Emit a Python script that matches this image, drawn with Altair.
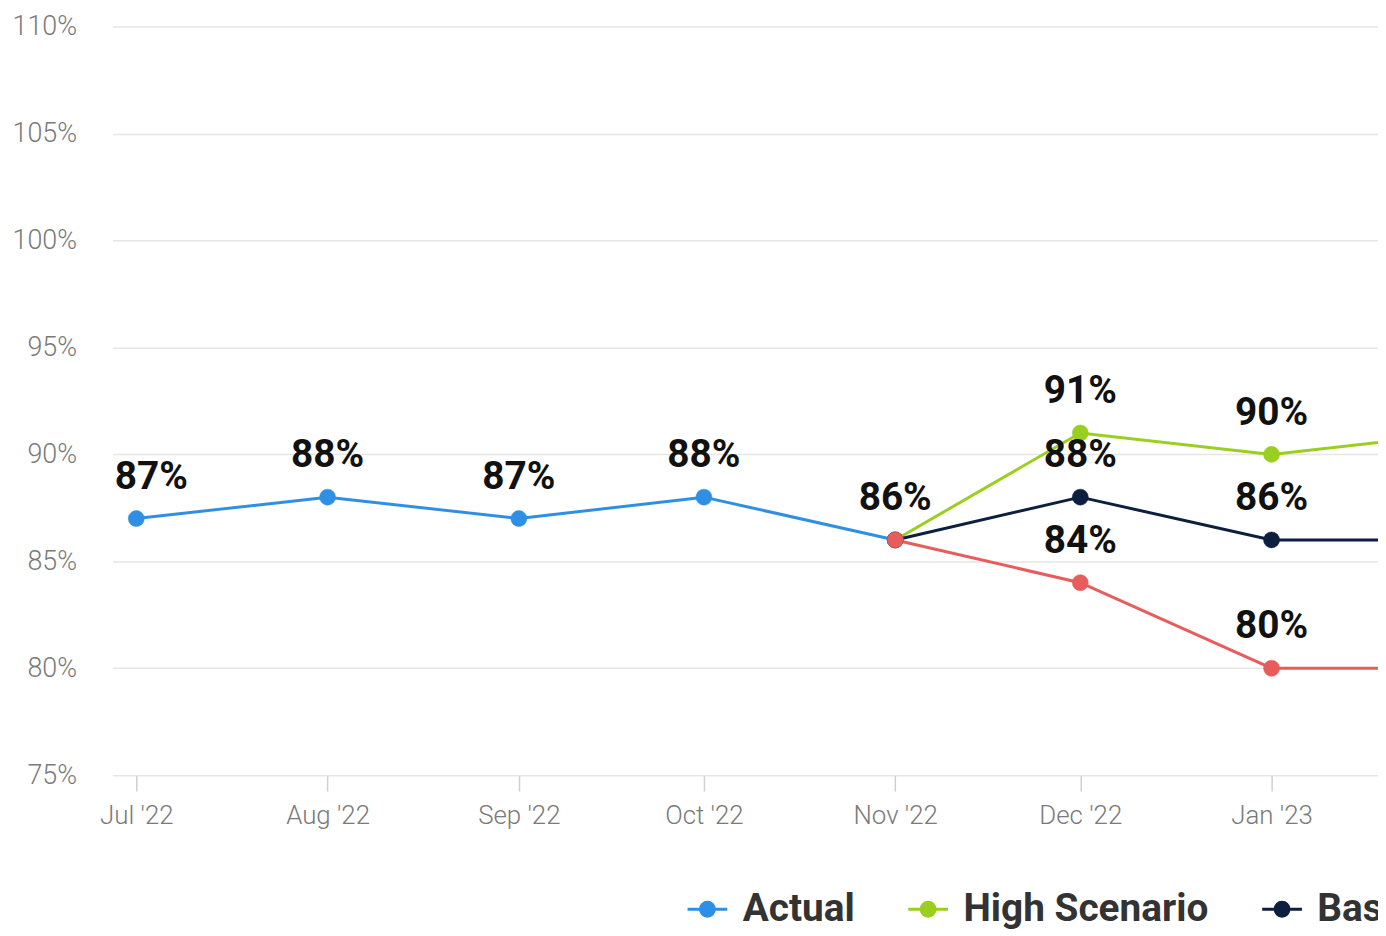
import altair as alt
import pandas as pd

# ---- data ----
series_names = ["Actual", "High Scenario", "Base Scenario", "Low Scenario"]
series_colors = ["#2f8fe5", "#9bcf1f", "#0c1f3f", "#e85c5c"]

actual_months = ["2022-07-01", "2022-08-01", "2022-09-01", "2022-10-01", "2022-11-01"]
actual_values = [87, 88, 87, 88, 86]

scenario_months = ["2022-11-01", "2022-12-01", "2023-01-01", "2023-02-01"]
high_values = [86, 91, 90, 91]
base_values = [86, 88, 86, 86]
low_values = [86, 84, 80, 80]

labelled_scenario_months = ["2022-12-01", "2023-01-01"]

rows = []
for i, (m, v) in enumerate(zip(actual_months, actual_values)):
    rows.append({"month": m + "T00:00:00", "value": v, "series": "Actual",
                 "lab": i > 0, "first": i == 0})
for name, vals in [("High Scenario", high_values), ("Base Scenario", base_values),
                   ("Low Scenario", low_values)]:
    for m, v in zip(scenario_months, vals):
        rows.append({"month": m + "T00:00:00", "value": v, "series": name,
                     "lab": m in labelled_scenario_months, "first": False})
df = pd.DataFrame(rows)
df["order"] = range(len(df))
df["label"] = df["value"].astype(str) + "%"

x_scale = alt.Scale(domain=[alt.DateTime(year=2022, month=6, date=27, hours=3),
                            alt.DateTime(year=2023, month=1, date=18, hours=6)])
y_scale = alt.Scale(domain=[75, 110], nice=False, zero=False)

x_enc = alt.X("month:T", scale=x_scale,
              axis=alt.Axis(title=None, format="%b '%y", tickCount={"interval": "month", "step": 1},
                            grid=False, domain=False, ticks=True, tickSize=16, tickColor="#d0d0d0",
                            tickWidth=1.5, labelPadding=12, labelFontSize=26, labelFont="Roboto",
                            labelFontWeight=300, labelColor="#7a7a7a", labelFlush=False))
y_enc = alt.Y("value:Q", scale=y_scale,
              axis=alt.Axis(title=None, values=[75, 80, 85, 90, 95, 100, 105, 110],
                            labelExpr="datum.value + '%'", grid=True, gridColor="#e6e6e6",
                            gridWidth=1.5, domain=False, ticks=False, labelPadding=36,
                            labelFontSize=27, labelFont="Roboto", labelFontWeight=300,
                            labelColor="#7a7a7a"))

col_scale = alt.Scale(domain=series_names, range=series_colors)

legend = alt.Legend(
    title=None, orient="none", direction="horizontal", columns=4,
    legendX=577, legendY=866, padding=0,
    symbolType="M-1,0L1,0M-0.35,0A0.35,0.35,0,1,0,0.35,0A0.35,0.35,0,1,0,-0.35,0Z",
    symbolSize=1600, symbolStrokeWidth=3, symbolOpacity=1,
    labelFont="Roboto", labelFontSize=39, labelFontWeight="bold", labelColor="#333333",
    labelOffset=14, columnPadding=47, labelLimit=600,
)

base = alt.Chart(df)

lines = base.mark_line(strokeWidth=3, clip=True).encode(
    x=x_enc, y=y_enc,
    stroke=alt.Stroke("series:N", scale=col_scale, legend=legend),
    order=alt.Order("order:Q"),
)

points = base.mark_point(filled=True, size=260, opacity=1, strokeWidth=0.5, clip=True).encode(
    x=x_enc, y=y_enc,
    fill=alt.Fill("series:N", scale=col_scale, legend=legend),
    stroke=alt.Stroke("series:N", scale=col_scale, legend=legend),
    order=alt.Order("order:Q"),
)

text_style = dict(font="Roboto", fontSize=39, fontWeight="bold", color="#111111",
                  baseline="alphabetic", align="center", dy=-30)

labels = base.transform_filter("datum.lab").mark_text(**text_style).encode(
    x=x_enc, y=y_enc, text="label:N")

first_label = base.transform_filter("datum.first").mark_text(dx=15, **text_style).encode(
    x=x_enc, y=y_enc, text="label:N")

chart = alt.layer(lines, points, labels, first_label).properties(
    width=1273, height=753,
    background="white",
    autosize=alt.AutoSizeParams(type="none"),
    padding={"left": 105, "top": 16, "right": 0, "bottom": 155},
).configure_view(stroke="transparent", strokeWidth=0)

chart.save("out.html", embed_options={"renderer": "svg", "actions": False})
